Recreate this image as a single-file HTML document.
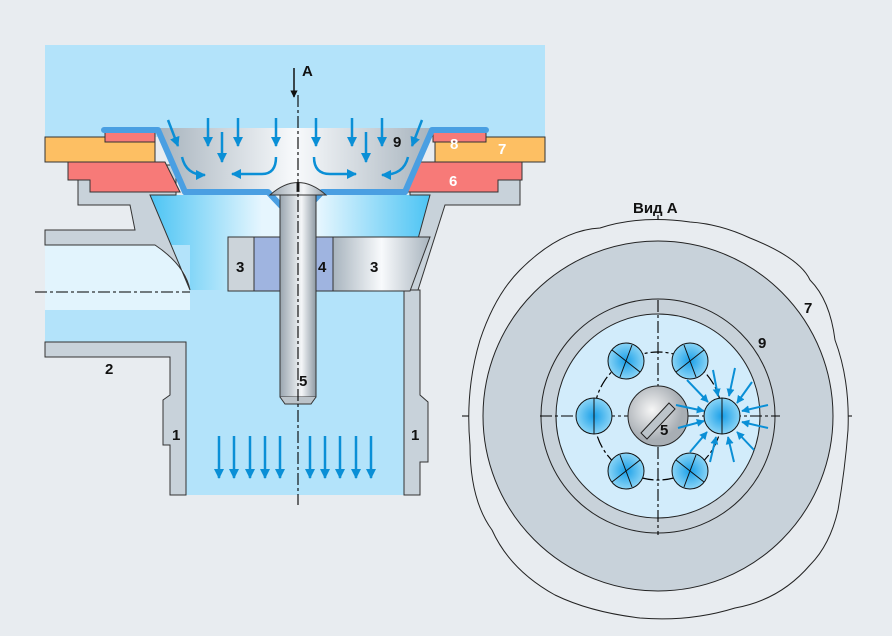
<!DOCTYPE html><html><head><style>body{margin:0;background:#e8ecf0}svg{display:block}text{font-family:"Liberation Sans",sans-serif;font-weight:bold;font-size:15px}</style></head><body>
<svg width="892" height="636" viewBox="0 0 892 636" xmlns="http://www.w3.org/2000/svg">
<defs>
<marker id="a" viewBox="0 0 10 10" refX="9" refY="5" markerWidth="4" markerHeight="4" orient="auto"><path d="M0,0L10,5L0,10z" fill="#0a8fd6"/></marker>
<marker id="k" viewBox="0 0 10 10" refX="9" refY="5" markerWidth="5" markerHeight="5" orient="auto"><path d="M0,0L10,5L0,10z" fill="#111"/></marker>
<linearGradient id="bolt" x1="0" x2="1"><stop offset="0" stop-color="#9aa6b0"/><stop offset=".6" stop-color="#f4f6f8"/><stop offset="1" stop-color="#8e9aa4"/></linearGradient>
<linearGradient id="cup" x1="0" x2="1"><stop offset="0" stop-color="#a8b4be"/><stop offset=".5" stop-color="#f8fafc"/><stop offset="1" stop-color="#a8b4be"/></linearGradient>
<linearGradient id="fl" x1="0" x2="1"><stop offset="0" stop-color="#4cc4f4"/><stop offset=".4" stop-color="#e6f6fe"/><stop offset=".6" stop-color="#e6f6fe"/><stop offset="1" stop-color="#4cc4f4"/></linearGradient>
<radialGradient id="h"><stop offset="0" stop-color="#1aa0e8"/><stop offset="1" stop-color="#8ad4f6"/></radialGradient>
<radialGradient id="sc" cx=".4" cy=".4"><stop offset="0" stop-color="#f6f6f6"/><stop offset="1" stop-color="#a8aeb4"/></radialGradient>
</defs>
<rect width="892" height="636" fill="#e8ecf0"/>
<rect x="45" y="45" width="500" height="92" fill="#b3e3fa"/>
<rect x="186" y="290" width="218" height="205" fill="#b3e3fa"/>
<path d="M150,195 L430,195 L410,290 L186,290 Z" fill="url(#fl)"/>
<rect x="45" y="245" width="145" height="97" fill="#b3e3fa"/>
<path d="M45,245 L155,245 Q190,265 190,295 L190,310 L45,310Z" fill="#e2f4fd"/>
<path d="M78,165 L78,205 L130,205 L135,230 L45,230 L45,245 L155,245 Q185,265 190,290 L150,195 L176,195 L176,165Z" fill="#c8d2da" stroke="#333" stroke-width="1"/>
<path d="M520,165 L520,205 L445,205 L418,290 L418,342 L404,342 L404,290 L430,195 L410,195 L410,165Z" fill="#c8d2da" stroke="#333" stroke-width="1"/>
<path d="M45,342 L186,342 L186,495 L170,495 L170,445 L163,445 L163,400 L170,395 L170,357 L45,357Z" fill="#c8d2da" stroke="#333"/>
<path d="M404,290 L420,290 L420,395 L428,402 L428,462 L420,462 L420,495 L404,495Z" fill="#c8d2da" stroke="#333"/>
<rect x="228" y="237" width="26" height="54" fill="#ccd4da" stroke="#333"/>
<rect x="254" y="237" width="79" height="54" fill="#9fb4e0" stroke="#333"/>
<path d="M333,237 L430,237 L410,291 L333,291Z" fill="url(#cup)" stroke="#333"/>
<path d="M45,137 L155,137 L155,162 L45,162Z" fill="#fdbf63" stroke="#333"/>
<path d="M435,137 L545,137 L545,162 L435,162Z" fill="#fdbf63" stroke="#333"/>
<path d="M68,162 L165,162 L180,192 L90,192 L90,180 L68,180Z" fill="#f77a78" stroke="#333"/>
<path d="M420,162 L522,162 L522,180 L498,180 L498,192 L405,192Z" fill="#f77a78" stroke="#333"/>
<rect x="105" y="130" width="50" height="12" fill="#f77a78" stroke="#333"/>
<rect x="433" y="130" width="53" height="12" fill="#f77a78" stroke="#333"/>
<path d="M160,128 L430,128 L405,192 L185,192Z" fill="url(#cup)"/>
<path d="M104,130 L158,130 L185,192 L268,192 L285,210 M305,210 L322,192 L405,192 L432,130 L486,130" fill="none" stroke="#4a9fe2" stroke-width="6" stroke-linejoin="round" stroke-linecap="round"/>
<rect x="280" y="192" width="36" height="205" fill="url(#bolt)" stroke="#333"/>
<path d="M280,397 L285,404 L311,404 L316,397" fill="#bcc4ca" stroke="#333"/>
<path d="M270,195 Q298,170 326,195Z" fill="url(#bolt)" stroke="#333"/>
<line x1="298" y1="182" x2="298" y2="192" stroke="#333" stroke-width="3"/>
<g stroke="#000" stroke-dasharray="12,3,3,3" stroke-width="1.1">
<line x1="298" y1="95" x2="298" y2="505"/>
<line x1="35" y1="292" x2="190" y2="292"/>
<line x1="658" y1="215" x2="658" y2="610"/>
<line x1="462" y1="416" x2="855" y2="416"/>
</g>
<line x1="294" y1="68" x2="294" y2="97" stroke="#111" stroke-width="1.5" marker-end="url(#k)"/>
<g stroke="#0a8fd6" stroke-width="2.5" fill="none" marker-end="url(#a)">
<path d="M168,120 L178,146"/><path d="M208,118 L208,146"/><path d="M238,118 L238,146"/><path d="M276,118 L276,146"/><path d="M222,132 L222,162"/>
<path d="M316,118 L316,146"/><path d="M352,118 L352,146"/><path d="M382,118 L382,146"/><path d="M366,132 L366,162"/><path d="M422,120 L412,146"/>
<path d="M182,157 Q186,175 205,175"/><path d="M276,157 Q276,174 262,174 L232,174"/>
<path d="M314,157 Q314,174 330,174 L356,174"/><path d="M408,157 Q404,175 382,175"/>
<path d="M219,436 V478"/><path d="M234,436 V478"/><path d="M250,436 V478"/><path d="M265,436 V478"/><path d="M280,436 V478"/>
<path d="M310,436 V478"/><path d="M325,436 V478"/><path d="M340,436 V478"/><path d="M356,436 V478"/><path d="M371,436 V478"/>
</g>
<g fill="#111"><text x="302" y="76">A</text><text x="236" y="272">3</text><text x="318" y="272">4</text><text x="370" y="272">3</text><text x="299" y="386">5</text><text x="105" y="374">2</text><text x="172" y="440">1</text><text x="411" y="440">1</text><text x="393" y="147">9</text></g>
<g fill="#fff"><text x="450" y="149">8</text><text x="498" y="154">7</text><text x="449" y="186">6</text></g>
<text x="633" y="213" fill="#111" font-size="14">Вид А</text>
<path d="M520,270 Q560,230 600,228 Q640,215 690,222 Q720,224 750,238 Q800,258 810,280 Q830,300 835,340 Q850,380 848,430 Q845,470 838,510 Q830,545 810,565 Q780,600 735,608 Q690,622 640,618 Q590,612 555,595 Q510,570 492,530 Q470,500 470,445 Q465,390 480,340 Q495,295 520,270Z" fill="#e8ecf0" stroke="#222"/>
<circle cx="658" cy="416" r="175" fill="#c8d2da" stroke="#222"/>
<circle cx="658" cy="416" r="117" fill="#c8d2da" stroke="#222"/>
<circle cx="658" cy="416" r="102" fill="#d2ecfb" stroke="#222"/>
<g stroke="#000" stroke-dasharray="12,3,3,3" stroke-width="1.1">
<line x1="658" y1="300" x2="658" y2="535"/>
<line x1="540" y1="416" x2="780" y2="416"/>
</g>
<circle cx="658" cy="416" r="64" fill="none" stroke="#000" stroke-width="1.2" stroke-dasharray="12,3,3,3"/>
<g stroke="#111">
<circle cx="722" cy="416" r="18" fill="url(#h)"/><circle cx="594" cy="416" r="18" fill="url(#h)"/>
<circle cx="626" cy="361" r="18" fill="url(#h)"/><circle cx="690" cy="361" r="18" fill="url(#h)"/>
<circle cx="626" cy="471" r="18" fill="url(#h)"/><circle cx="690" cy="471" r="18" fill="url(#h)"/>
<path d="M612,350 L640,372 M632,345 L620,377 M676,372 L704,350 M684,345 L696,377 M612,482 L640,460 M620,455 L632,487 M676,460 L704,482 M684,487 L696,455 M594,398 V434 M722,398 V434" fill="none"/>
</g>
<circle cx="658" cy="416" r="30" fill="url(#sc)" stroke="#222"/>
<path d="M641,433 L669,403 L675,409 L647,439Z" fill="#bcc4ca" stroke="#222"/>
<g stroke="#0a8fd6" stroke-width="2" fill="none" marker-end="url(#a)">
<path d="M676,405 L704,411"/><path d="M678,428 L704,421"/><path d="M687,380 L708,402"/><path d="M713,370 L718,396"/><path d="M735,368 L729,396"/><path d="M752,382 L737,403"/><path d="M768,405 L742,411"/><path d="M768,428 L742,422"/><path d="M754,450 L737,432"/><path d="M734,462 L728,437"/><path d="M710,462 L716,437"/><path d="M690,452 L707,432"/>
</g>
<g fill="#111"><text x="660" y="435">5</text><text x="758" y="348">9</text><text x="804" y="313">7</text></g>
</svg></body></html>
